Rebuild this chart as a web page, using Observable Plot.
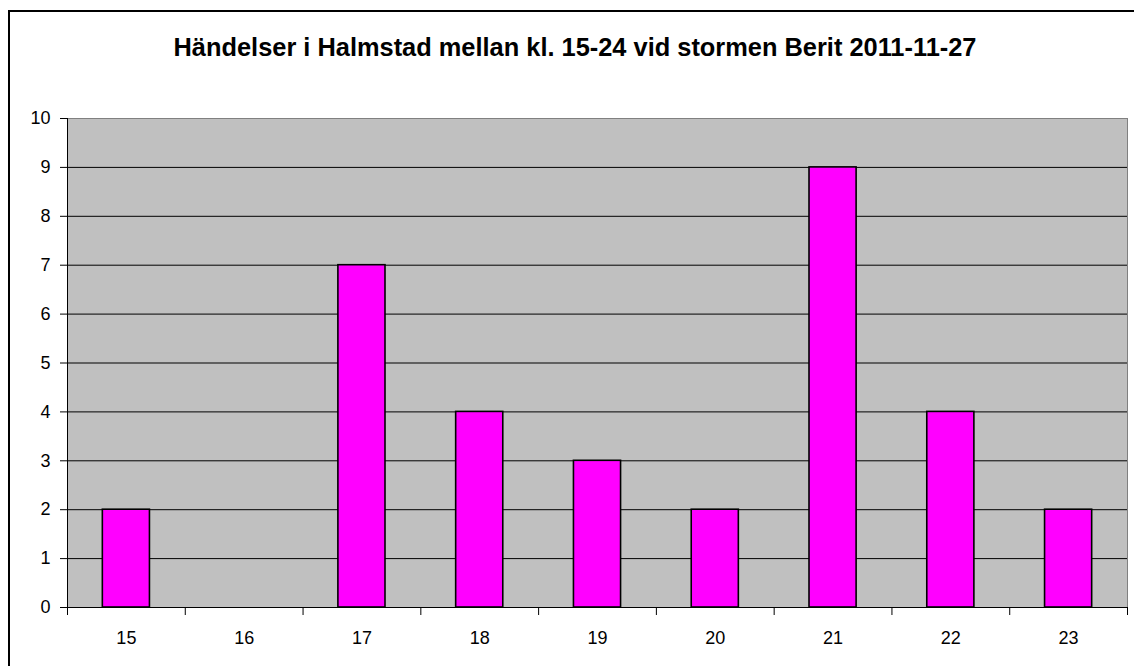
<!DOCTYPE html>
<html>
<head>
<meta charset="utf-8">
<script src="https://cdn.jsdelivr.net/npm/d3@7"></script>
<script src="https://cdn.jsdelivr.net/npm/@observablehq/plot@0.6"></script>
<style>
  html, body { margin: 0; padding: 0; background: #fff; overflow: hidden; }
  #wrap { position: relative; width: 1134px; height: 666px; overflow: hidden; background: #fff; }
  #bsvg { position: absolute; left: 0; top: 0; }
  #title { position: absolute; left: 0; top: 34px; width: 1150px; text-align: center;
           font-family: "Liberation Sans", Arial, sans-serif; font-weight: bold; font-size: 25.4px; line-height: 26px; color: #000; }
  #chart { position: absolute; left: 0; top: 100px; }
  #chart svg text { font-size: 18px !important; }
</style>
</head>
<body>
<div id="wrap">
  <svg id="bsvg" width="1134" height="666"><path d="M9,666V11H1134" fill="none" stroke="#000" stroke-width="2"/></svg>
  <div id="title">Händelser i Halmstad mellan kl. 15-24 vid stormen Berit 2011-11-27</div>
  <div id="chart"></div>
</div>
<script>
const hours = [15, 16, 17, 18, 19, 20, 21, 22, 23];
const counts = [2, 0, 7, 4, 3, 2, 9, 4, 2];
const yTicks = [0, 1, 2, 3, 4, 5, 6, 7, 8, 9, 10];
const gridLines = [1, 2, 3, 4, 5, 6, 7, 8, 9];

const data = hours.map((h, i) => ({hour: h, count: counts[i]}));
const boundaries = hours.map(h => h - 0.5).concat([hours[hours.length - 1] + 0.5]);

const plot = Plot.plot({
  width: 1134,
  height: 566,
  marginTop: 18,
  marginBottom: 59,
  marginLeft: 67,
  marginRight: 7,
  style: {fontFamily: '"Liberation Sans", Arial, sans-serif', fontSize: "18px", color: "#000", background: "transparent"},
  x: {type: "linear", domain: [boundaries[0], boundaries[boundaries.length - 1]]},
  y: {domain: [0, 10]},
  marks: [
    Plot.frame({fill: "#c0c0c0", stroke: "#808080"}),
    Plot.ruleY(gridLines, {stroke: "#000", strokeWidth: 1}),
    Plot.rectY(data.filter(d => d.count > 0), {
      x1: d => d.hour - 0.2, x2: d => d.hour + 0.2, y: "count",
      fill: "#ff00ff", stroke: "#000", strokeWidth: 1.6
    }),
    Plot.ruleX([boundaries[0]], {stroke: "#000"}),
    Plot.ruleY([0], {stroke: "#000"}),
    Plot.axisY({ticks: yTicks, tickSize: 7, tickPadding: 10, fontSize: 18, tickFormat: d => String(d), label: null}),
    Plot.axisX({ticks: boundaries, tickSize: 8, tickFormat: () => "", label: null}),
    Plot.axisX({ticks: hours, tickSize: 0, tickPadding: 24, fontSize: 18, tickFormat: d => String(d), label: null})
  ]
});
document.getElementById("chart").appendChild(plot);
</script>
</body>
</html>
